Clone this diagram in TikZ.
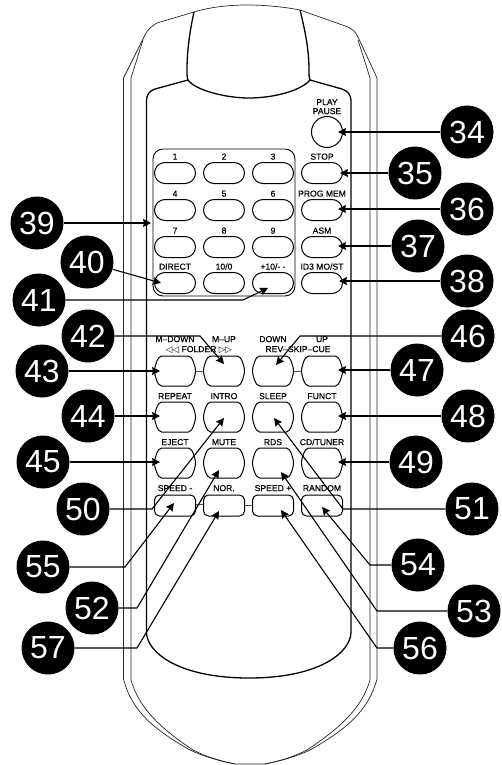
\documentclass[tikz,border=0pt]{standalone}
\usepackage{fontspec}
\usetikzlibrary{arrows.meta,shapes.misc}
\setmainfont{Liberation Sans}
\newfontfamily\lab[FakeBold=0.35]{Liberation Sans}
\newfontfamily\symf{DejaVu Sans}
\tikzset{
  bodyline/.style={line width=0.7pt,black!85},
  panelline/.style={line width=1.3pt,black},
  pill/.style={draw,line width=1pt,rounded rectangle,minimum width=41pt,minimum height=21pt,inner sep=0pt},
  lowbtn/.style={draw,line width=1pt,rounded corners=5pt,minimum width=41pt,minimum height=21pt,inner sep=0pt},
  btnlabel/.style={inner sep=0pt,font=\lab\fontsize{8.6}{8.6}\selectfont,text height=6.2pt,text depth=0pt},
  badge/.style={circle,fill=black,text=white,minimum size=53pt,inner sep=0pt,font=\fontsize{32}{32}\selectfont},
  leader/.style={line width=1.1pt,-{Stealth[length=8pt,width=8pt,inset=1pt]}},
  linkline/.style={line width=0.7pt,black!70},
  bulge/.style={line width=1pt,draw}
}
\newcommand{\bulgebtn}[3]{%
  \node[minimum width=41pt,minimum height=30pt,inner sep=0pt] (#3) at (#1,#2) {};
  \draw[bulge] (#1-13.5,#2-15) -- (#1+13.5,#2-15)
    .. controls (#1+17.5,#2-15) and (#1+20.5,#2-4) .. (#1+20.5,#2)
    .. controls (#1+20.5,#2+4) and (#1+17.5,#2+15) .. (#1+13.5,#2+15)
    -- (#1-13.5,#2+15)
    .. controls (#1-17.5,#2+15) and (#1-20.5,#2+4) .. (#1-20.5,#2)
    .. controls (#1-20.5,#2-4) and (#1-17.5,#2-15) .. (#1-13.5,#2-15) -- cycle;
}
\begin{document}
\begin{tikzpicture}[x=1pt,y=-1pt]
\useasboundingbox (0,0) rectangle (502,765);
% body outline
\draw[bodyline] (194,12) .. controls (210,7) and (230,5) .. (247,5)
  .. controls (265,5) and (285,7) .. (300,10)
  -- (348,27) .. controls (352,29) and (355,31) .. (358,37) -- (377,78) -- (377,679)
  .. controls (368,712) and (345,730) .. (310,750) .. controls (295,757) and (280,761) .. (265,764) -- (235,764)
  .. controls (220,761) and (205,757) .. (190,750) .. controls (155,730) and (132,712) .. (123.5,679)
  -- (123.5,78) -- (145,35) .. controls (148,29) and (152,26) .. (157,23) -- cycle;
\draw[bodyline] (143,40) -- (131,78) -- (131,680)
  .. controls (139,708) and (160,728) .. (193,750) .. controls (207,757) and (220,761) .. (235,764);
\draw[bodyline] (358,40) -- (370,78) -- (370,680)
  .. controls (362,708) and (340,728) .. (307,750) .. controls (293,757) and (280,761) .. (265,764);
% window
\draw[panelline] (194,12) .. controls (190,30) and (187,50) .. (187,70) .. controls (187,74) and (187,78) .. (188,80);
\draw[panelline] (300,10) .. controls (305,30) and (309,50) .. (309,70) .. controls (309,74) and (309,78) .. (310,80);
% panel
\draw[panelline] (188,80) .. controls (195,90) and (225,98) .. (249,98)
  .. controls (275,98) and (302,90) .. (310,80)
  -- (342,89) .. controls (348,91) and (351,95) .. (351,101)
  -- (351,632) .. controls (351,652) and (320,678) .. (249,678)
  .. controls (178,678) and (146.5,652) .. (146.5,632)
  -- (146.5,101) .. controls (146.5,95) and (149,91) .. (155,89) -- cycle;
% keypad
\draw[line width=0.9pt,rounded corners=10pt] (153,149) rectangle (295,296);
\node[draw,line width=1pt,circle,minimum size=31pt,inner sep=0pt] (play) at (327,132) {};
\node[btnlabel] (lplay) at (327,102) {PLAY};
\node[btnlabel] (lpause) at (327,111) {PAUSE};
\foreach \n/\x/\y/\t in {a1/175/173/1,a2/224/173/2,a3/273/173/3,a4/322/173/STOP,
  b1/175/210/4,b2/224/210/5,b3/273/210/6,b4/322/210/PROG MEM,
  c1/175/247/7,c2/224/247/8,c3/273/247/9,c4/322/247/ASM,
  d1/175/283/DIRECT,d2/224/283/10\slash 0,d3/273/283/+10\slash - -,d4/322/283/ID3 MO\slash ST}{
  \node[pill] (\n) at (\x,\y) {};
  \node[btnlabel] (l\n) at (\x,\y-16.5) {\t};
}
% lower buttons
\draw[linkline] (196,371) -- (204,371);
\draw[linkline] (293,371) -- (302,371);
\draw[linkline] (196,504) -- (204,504);
\draw[linkline] (245,505) -- (253,505);
\bulgebtn{175}{371}{e1}\bulgebtn{224}{371}{e2}\bulgebtn{273}{371}{e3}\bulgebtn{322}{371}{e4}
\bulgebtn{175}{417}{f1}\bulgebtn{224}{417}{f2}\bulgebtn{273}{417}{f3}\bulgebtn{322}{417}{f4}
\bulgebtn{175}{463}{g1}\bulgebtn{224}{463}{g2}\bulgebtn{273}{463}{g3}\bulgebtn{322}{463}{g4}
\foreach \n/\x in {h1/175,h2/224,h3/273,h4/322}{
  \node[lowbtn] (\n) at (\x,505.5) {};
}
\node[btnlabel] (le1) at (175,339) {M–DOWN};
\node[btnlabel] (le2) at (224,339) {M–UP};
\node[btnlabel] (le3) at (273,339) {DOWN};
\node[btnlabel] (le4) at (322,339) {UP};
\node[btnlabel] (lfold) at (199,349) {{\symf ◁◁} FOLDER {\symf ▷▷}};
\node[btnlabel] (lskip) at (298,349) {REV–SKIP–CUE};
\foreach \n/\x/\y/\t in {f1/175/396/REPEAT,f2/224/396/INTRO,f3/273/396/SLEEP,f4/322/396/FUNCT,
  g1/175/442/EJECT,g2/224/442/MUTE,g3/273/442/RDS,g4/322/442/CD\slash TUNER,
  h1/175/488/SPEED -,h2/224/488/NOR.,h3/273/488/SPEED +,h4/322/488/RANDOM}{
  \node[btnlabel] (l\n) at (\x,\y) {\t};
}
% badges
\foreach \n/\x/\y in {34/467/132,35/415/173,36/467/209,37/418/246,38/467/281,39/37/223,40/87/262,41/39/300,
  42/88/336,43/42/371,44/88/416,45/43/462,46/468/336,47/417/370,48/468/416,49/416/462,
  50/83/509,51/472/509,52/92/608,53/474/611,54/418/565,55/43/567,56/420/648,57/48/648}{
  \node[badge] (b\n) at (\x,\y) {\n};
}
% tips and elbows
\foreach \n/\x/\y in {34/338/132,35/340/173,36/338/209,37/338/246,38/339/281,39/151/223,40/161/283,41/268/288,
  42/224/364,43/160/371,44/160/416,45/160/462,46/276/365,47/338/370,48/338/416,49/338/462,
  50/224/418,51/274/418,52/219/470,53/281/472,54/322/507,55/174/503,56/281/510,57/219/511}{
  \coordinate (t\n) at (\x,\y);
}
\foreach \n/\x/\y in {41/243/300,42/200/336,46/300/336,50/152/509,51/343/509,52/137/608,53/377/611,54/370/565,55/125/567,56/377/648,57/137/648}{
  \coordinate (k\n) at (\x,\y);
}
\foreach \n in {34,35,36,37,38,39,40,43,44,45,47,48,49}{
  \draw[leader] (b\n) -- (t\n);
}
\foreach \n in {41,42,46,50,51,52,53,54,55,56,57}{
  \draw[leader] (b\n) -- (k\n) -- (t\n);
}
\end{tikzpicture}
\end{document}
